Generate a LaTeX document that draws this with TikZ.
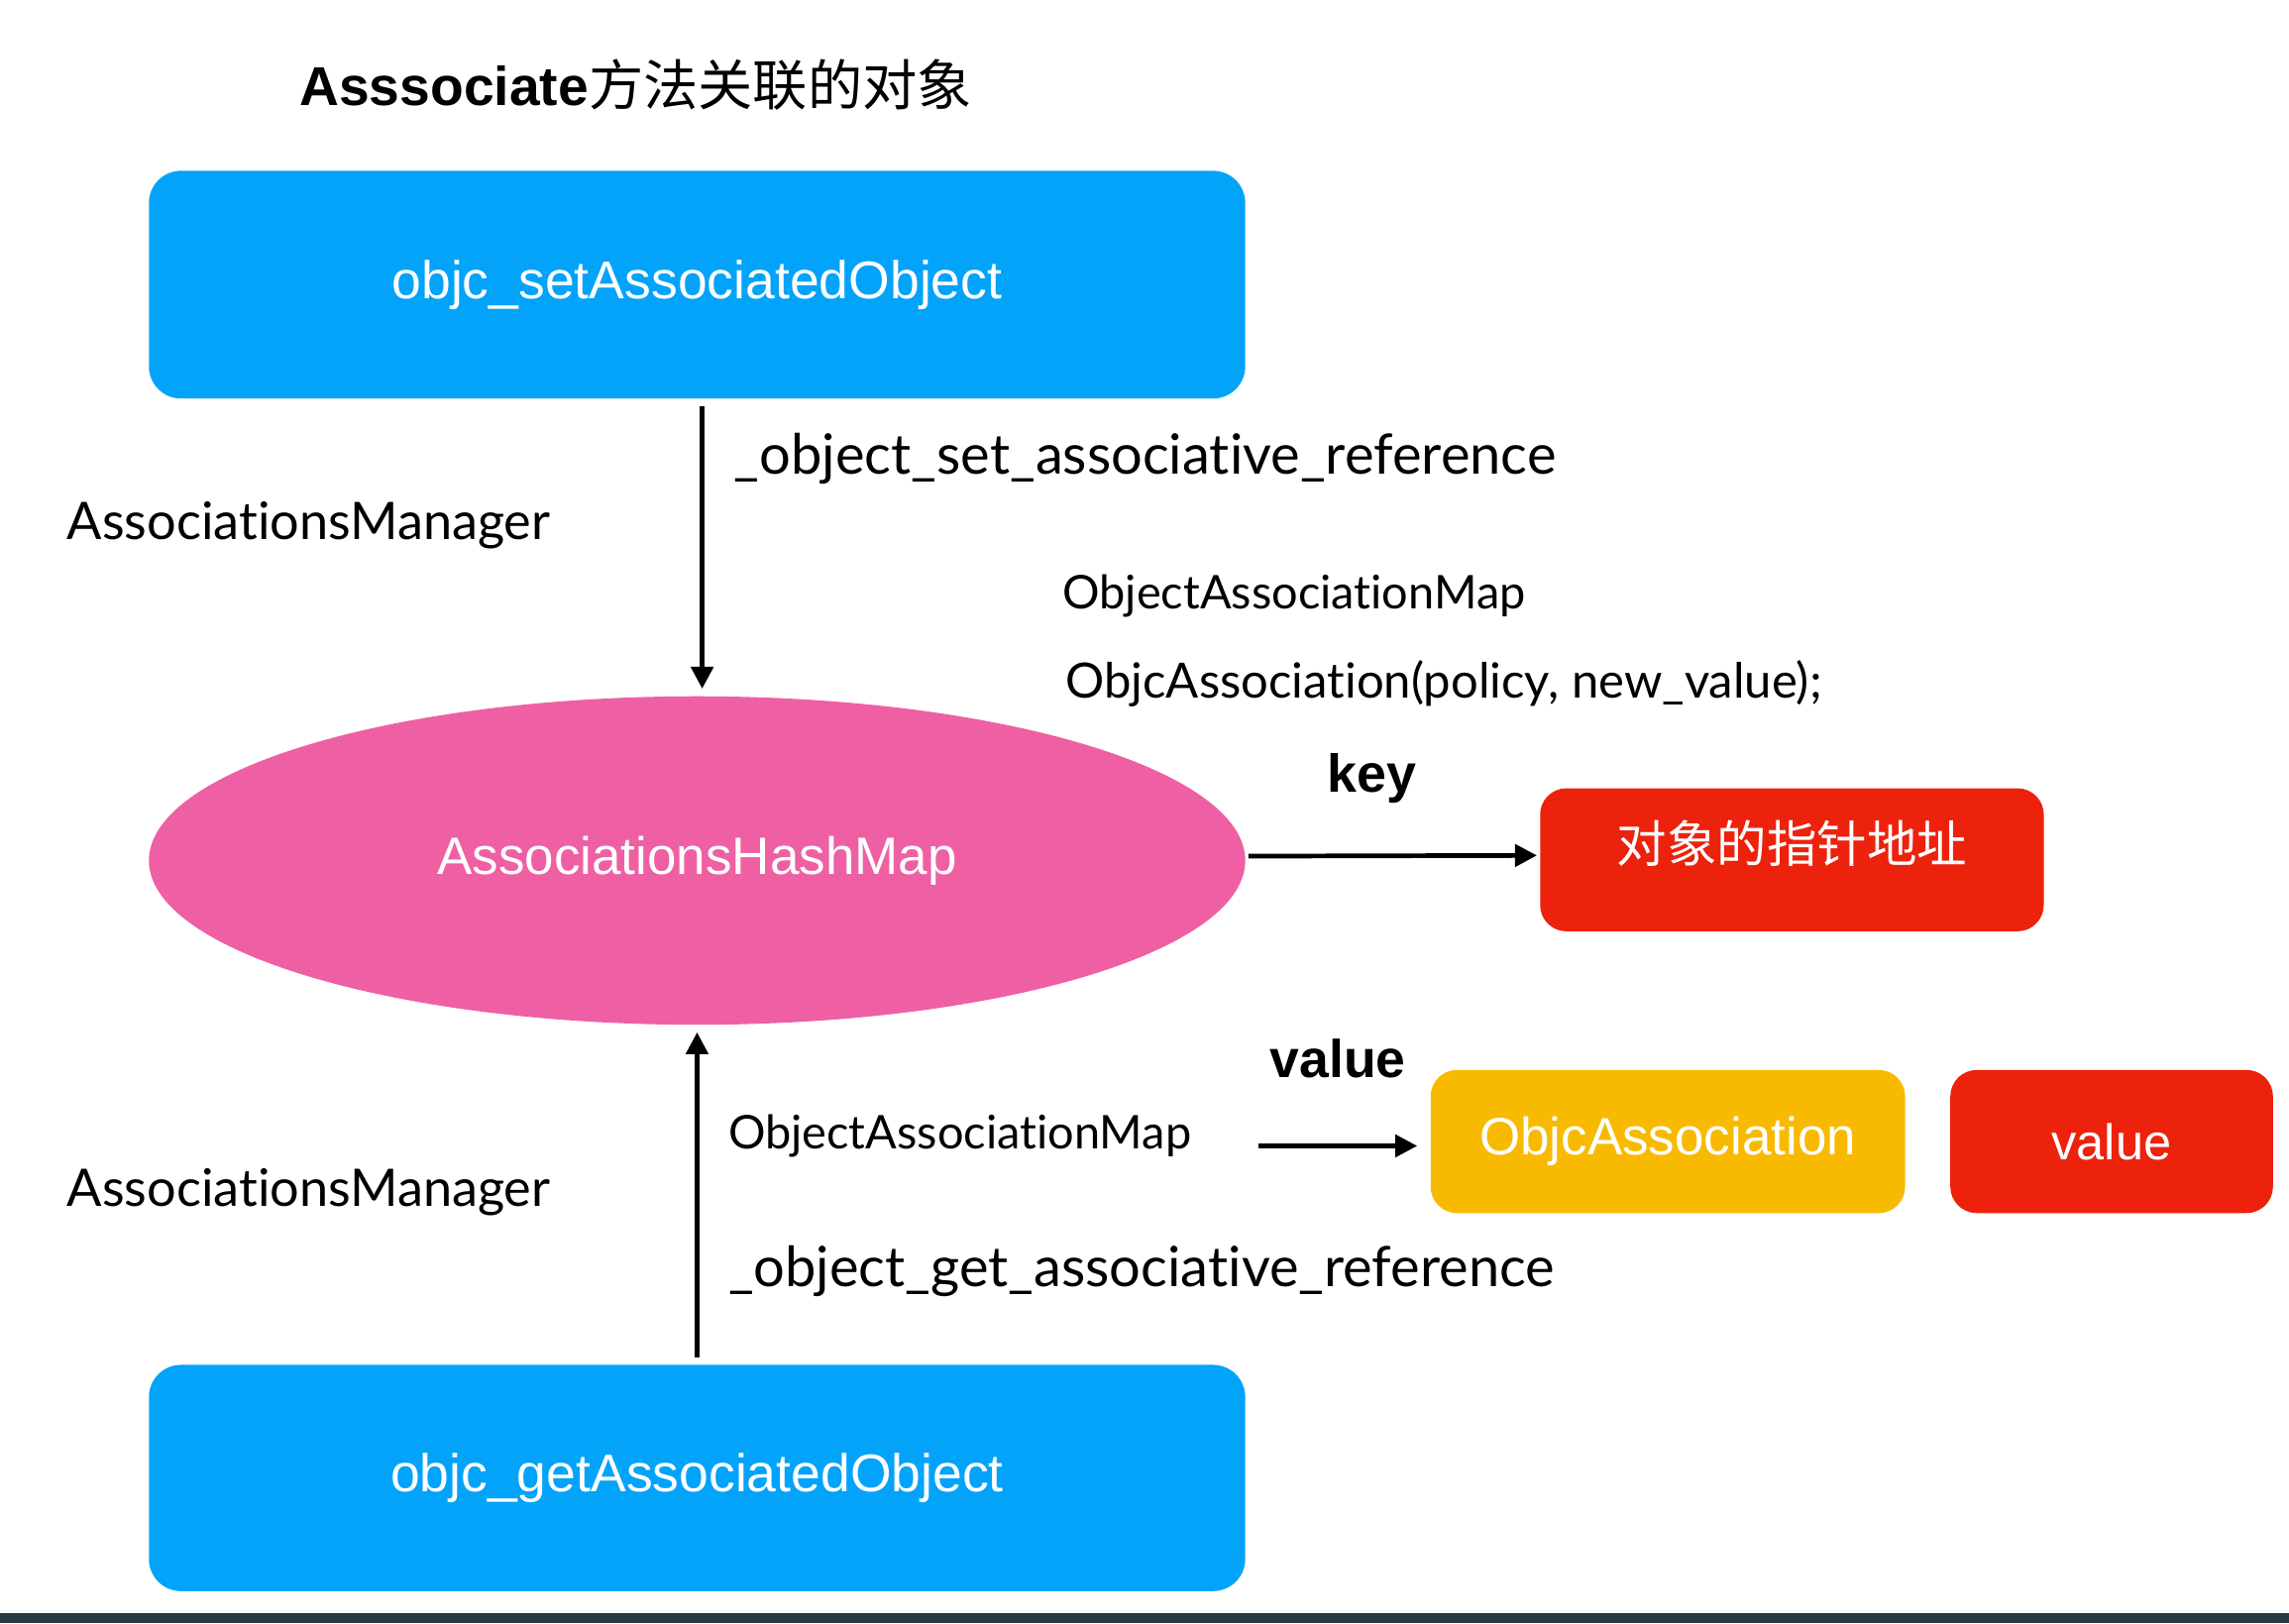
\documentclass[tikz,border=0pt]{standalone}
\usepackage{fontspec}
\usepackage{graphicx}
\setmainfont{Liberation Sans}
\newfontfamily\labfont[Ligatures={NoCommon,NoDiscretionary,NoRare}]{Lato}
\newfontfamily\cjkfont{Noto Sans CJK SC}
\usetikzlibrary{arrows.meta,shapes.geometric}
\definecolor{kblue}{RGB}{3,163,250}
\definecolor{kpink}{RGB}{238,96,163}
\definecolor{kred}{RGB}{237,34,13}
\definecolor{kyellow}{RGB}{248,186,0}
\definecolor{kband}{RGB}{40,58,68}
\newcommand{\fitw}[2]{\resizebox{#1pt}{!}{#2}}
\begin{document}
\begin{tikzpicture}[x=1pt,y=-1pt,
  txt/.style={inner sep=0pt, font=\labfont\fontsize{30}{36}\selectfont},
  boldtxt/.style={inner sep=0pt, font=\bfseries\fontsize{30}{36}\selectfont},
  bluebox/.style={fill=kblue, rounded corners=22pt, minimum width=751pt, inner sep=0pt, text=white, font=\fontsize{30}{36}\selectfont},
  smallbox/.style={rounded corners=18pt, minimum height=98pt, inner sep=0pt, text=white, font=\fontsize{30}{36}\selectfont},
  arr/.style={line width=3.2pt, -{Triangle[length=15pt,width=15pt]}}
]
\fill[white] (0,0) rectangle (1568,1112);
\useasboundingbox (0,0) rectangle (1568,1112);
\fill[kband] (0,1105) rectangle (1568,1112);

% title
\node[anchor=west, inner sep=0pt, font=\fontsize{37.5}{45}\selectfont] (title) at (205,58)
  {{\bfseries Asssociate}{\cjkfont 方法关联的对象}};

% boxes
\node[bluebox, minimum height=156pt] (setbox) at (477.5,195) {\fitw{418}{objc\_setAssociatedObject}};
\node[bluebox, minimum height=155pt] (getbox) at (477.5,1012.5) {\fitw{420}{objc\_getAssociatedObject}};
\node[ellipse, fill=kpink, minimum width=751pt, minimum height=225pt, inner sep=0pt, text=white, font=\fontsize{30}{36}\selectfont]
  (hash) at (477.5,589.5) {\fitw{356}{AssociationsHashMap}};
\node[smallbox, fill=kred, minimum width=345pt] (keyb) at (1227.5,589) {};
\node[inner sep=0pt, text=white, font=\cjkfont\fontsize{34}{40}\selectfont] (keytxt) at ([yshift=11pt]keyb.center) {\fitw{240}{对象的指针地址}};
\node[smallbox, fill=kyellow, minimum width=325pt] (assoc) at (1142.5,782) {\fitw{258}{ObjcAssociation}};
\node[smallbox, fill=kred, minimum width=221pt] (valb) at (1446.5,782) {\fitw{82}{value}};

% labels
\node[txt] (l1) at (784.5,314) {\fitw{563}{\_object\_set\_associative\_reference}};
\node[txt] (l2) at (211.5,360) {\fitw{331}{AssociationsManager}};
\node[txt] (l3) at (886.5,408) {\fitw{317}{ObjectAssociationMap}};
\node[txt] (l4) at (989,468) {\fitw{518}{ObjcAssociation(policy, new\_value);}};
\node[boldtxt] (lkey) at (939.5,533) {\fitw{61}{key}};
\node[boldtxt] (lval) at (916.5,725) {\fitw{93}{value}};
\node[txt] (l5) at (657.5,778) {\fitw{317}{ObjectAssociationMap}};
\node[txt] (l6) at (211.5,817) {\fitw{331}{AssociationsManager}};
\node[txt] (l7) at (782,871) {\fitw{566}{\_object\_get\_associative\_reference}};

% arrows
\draw[arr, shorten <=5pt, shorten >=5pt] ([xshift=3.5pt]setbox.south) -- ([xshift=3.5pt]hash.north);
\draw[arr, shorten <=5pt, shorten >=5pt] (getbox.north) -- (hash.south);
\draw[arr, shorten <=2pt, shorten >=2pt] ([yshift=3pt]hash.east) -- ([yshift=3pt]keyb.west);
\coordinate (vstart) at (862,785);
\draw[arr, shorten >=9pt] (vstart) -- (assoc.west |- vstart);
\end{tikzpicture}
\end{document}
